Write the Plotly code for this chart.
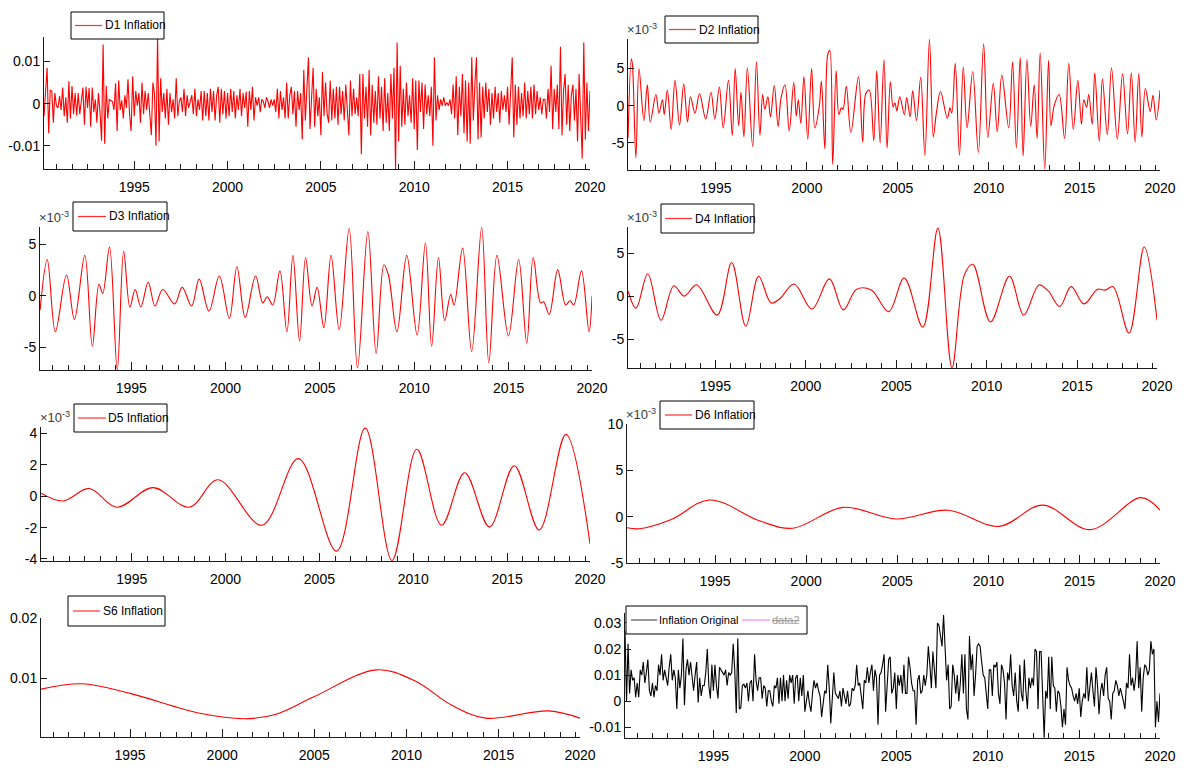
import numpy as np
import plotly.graph_objects as go
from plotly.subplots import make_subplots

# the page puts the plot 8 px in from the corner (body margin), so
# everything below is laid out in screen pixels and shifted by OFF
OFF = 8
W, H = 1184 - OFF, 772 - OFF
FONT = "Liberation Sans, Arial, sans-serif"


def px_x(s):
    return (s - OFF) / W


def px_y(s):
    return 1 - (s - OFF) / H


# sample: monthly, March 1990 .. June 2019
start = 1990 + 2 / 12
end = 2019 + 5 / 12

# ---- D1 (detail level 1, x1e-3), one row per calendar year ----
d1_rows = [
    [-3.0, 2.0, 8.5, -7.0, 3.2, 3.0, -4.5, 2.5, -0.5, -1.0],
    [1.8, -1.5, 3.8, -3.0, 1.5, -4.5, 5.3, -3.5, 4.2, -2.5, 2.5, -2.8],
    [2.5, -2.5, 0.5, 3.8, -5.0, 4.0, -1.0, 3.7, -5.5, 3.8, -2.0, 1.0],
    [-4.5, 2.5, -2.0, -8.8, 14.0, -9.5, 4.2, -3.5, 1.0, 0.8, 0.5, -1.5],
    [4.8, -6.5, 5.5, -1.5, 0.8, -3.5, 2.0, -1.0, 5.8, -2.5, -6.5, 6.5],
    [-3.0, 3.0, -0.5, 2.5, -4.5, 5.0, -2.5, 3.0, -1.5, 2.5, -3.5, -7.5],
    [5.0, 2.5, -10.0, 15.7, -9.0, 6.0, -2.0, 2.5, -3.5, 3.5, -5.0, 2.5],
    [-2.0, 1.0, -3.5, 6.0, -3.0, 0.5, 1.5, -2.0, 3.5, -3.0, 2.0, -1.0],
    [0.5, 2.0, -2.5, 3.5, -3.0, 1.0, -1.5, 3.0, -4.0, 3.0, -3.0, 2.5],
    [-4.0, 3.5, -2.0, 3.0, -4.0, 2.0, 4.0, -4.5, 3.5, -2.5, 3.0, -3.5],
    [2.5, -3.0, 3.5, -2.0, 3.0, -3.5, 2.0, -1.5, 3.5, -3.0, 2.5, -1.0],
    [2.8, -5.5, 3.0, -1.5, 4.0, -4.0, 1.5, -0.5, 1.5, -2.0, 1.0, 0.5],
    [-1.0, 1.5, 0.5, -1.0, 1.0, -0.5, 1.0, -2.0, 3.5, -3.5, 3.0, -1.5],
    [1.5, -3.5, 5.0, -3.5, 2.0, 4.0, -2.5, 3.0, -5.5, 3.0, -1.5, 2.5],
    [-8.5, 8.0, -4.0, 2.5, 11.0, -6.0, 1.0, 8.5, -5.5, 3.5, -3.0, 1.5],
    [-7.5, 7.5, -3.0, 5.0, -2.5, -4.5, 5.5, -4.0, 3.5, -3.5, 4.0, -5.0],
    [4.0, -2.5, 3.0, -4.0, 4.5, -1.5, -7.5, 5.5, -3.0, 3.5, -2.5, 1.5],
    [-3.0, 7.0, -12.0, 7.0, -3.5, 4.0, -5.5, 8.0, -7.5, 4.5, -4.5, 3.0],
    [-5.0, 6.5, -3.5, 4.0, -6.5, 6.0, -4.5, 2.5, -6.5, 7.0, -3.5, 8.5],
    [-15.5, 14.5, -9.0, 9.0, -5.5, 3.5, -5.0, 5.0, -3.0, 2.0, -4.5, 6.0],
    [-6.0, 5.5, -11.0, 5.5, -2.0, 5.0, -6.0, 4.5, -2.5, 2.0, -3.0, 4.0],
    [-10.0, 11.0, -4.0, 2.0, -1.5, 1.0, -0.5, 1.5, -0.5, 0.3, -0.5, 1.0],
    [-2.5, 4.5, -3.5, 6.5, -7.5, 4.0, -3.0, 7.0, -7.0, 5.5, -9.0, 5.0],
    [-9.5, 11.0, -4.0, 4.5, 11.0, -8.5, 5.0, -8.0, 4.0, -3.5, 5.0, -2.0],
    [3.5, -5.0, 2.5, -3.5, 4.0, -2.0, 2.5, -4.5, 3.0, -1.5, 2.0, -2.0],
    [4.0, -5.0, 2.0, 11.0, -8.0, 4.5, -5.0, 4.0, -3.5, 2.5, -3.0, 5.0],
    [-3.5, 3.0, -2.5, 4.0, -3.5, 4.5, -2.5, 3.0, -1.5, 1.5, -2.5, 1.0],
    [1.0, -3.5, 3.5, -2.0, 9.0, -6.0, 3.5, -2.0, 4.5, -6.0, 13.5, -7.5],
    [3.0, 7.0, -5.0, 4.5, -6.5, 2.0, 4.5, -4.0, 3.5, -9.0, 7.0, -3.0],
    [-13.0, 14.5, -8.5, 5.0, -6.5, 3.0],
]

# ---- original inflation (x1e-3), one row per calendar year ----
orig_rows = [
    [27, 0, 22, 3, 12, 8, 9, 1.5, 7, 1.5],
    [12, 10, 15, 7, 11, 16, 4, 2, 7, 1.5, 6, 4],
    [14, 10, 18, 8, 12, 9, 6, 13, 18, 8, 12, 9],
    [-3, 12, 5, 10, 24, -1.5, 12, 16, 10, 15, 10, 4],
    [10, 15, -0.5, 9, 2, 6, 6, 11, 20, 6, 1, 14],
    [4, 14, 6, 1, 13, 12, 11, 10, 12, 6, 11, 10],
    [11, 22, 12, -4.5, 24, -3, -2.5, 6, 6.5, 5, 7, 0],
    [7, 8, 0, 18, 8, 4, 9, 9, 1, 6, 5, -2],
    [4, 4, 0, -2, 6, 5, 9, -1, 9, 0, 10, 0],
    [8, 1, 10, 7, 10, -1, 9, 10, 0, 9, 2, 10],
    [-4, 1, 4, -1, -4, 3, 8, 5, 7, 4, 2, -6],
    [0, 4, 3, 14, 5, -8.5, 1, 11, 3, 2, 1, 4],
    [-2, 5, 2, -1, 4, -2, -1, 5, 4, 6, 14, 6],
    [7, 3, -3, 8, 7, 13, 7, 11, 14, 4, 12, 9],
    [-9, 10, 11, 14, 18, -4, 5, 16, 17, 3, 5, 11],
    [-3, 10, 6, 10, 3, 14, 3, 3, 17, 13, 7, 4],
    [4, -9, 8, 10, 3, 4, 10, 6, 10, 21, 14, 5],
    [19, 12, 5, 30, 29, 25, 21, 33, 20, 8, 14, -3],
    [-2, 14, 10, 3, 10, 0, 7, 18, 3, 18, -3, -7],
    [25, 12, 18, 2, 10, 21, 22, 21, 15, 10, 9, 2],
    [-3, 12, 12, 2, 14, 13, 15, 3, -1, 14, 12, 7],
    [-7, 11, 8, 18, 6, 2, 11, 0, -4, 14, 3, 0],
    [16, 4, -3, 9, 5, 9, 6, 20, 19, -3, 19, 19],
    [2, -14, 4, 1, 17, -3, 17, 6, 5, -4, 4, 3],
    [-2, -10, -3, -9, 13, 8, 6, 5, 2, 0, 3, -1],
    [5, -6, 0, 3, 1, 13, 0, 5, 11, 4, -2, 13],
    [6, -5, 4, 7, 2, 10, 13, 1, 0, -7, 3, 4],
    [8, 6, 2, 5, 3, 0, -3, 7, 5, 18, 6, 9],
    [4, 9, 23, 5, 13, -4, 9, 14, 13, 10, 12, 23],
    [18, 20, -10, 0, -8, 3],
]

# ---- smoother components: turning points (decimal year, value x1e-3) ----
d2_t = [1990.17, 1990.35, 1990.41, 1990.60, 1990.77, 1991.04, 1991.23, 1991.39, 1991.70, 1991.87,
        1992.06, 1992.16, 1992.33, 1992.54, 1992.75, 1993.00, 1993.23, 1993.44, 1993.60, 1993.85,
        1994.10, 1994.44, 1994.73, 1994.94, 1995.19, 1995.40, 1995.69, 1995.90, 1996.06, 1996.25,
        1996.38, 1996.54, 1996.73, 1997.02, 1997.23, 1997.42, 1997.57, 1997.69, 1997.86, 1998.00,
        1998.21, 1998.42, 1998.58, 1998.80, 1999.03, 1999.28, 1999.42, 1999.53, 1999.67, 1999.84,
        2000.05, 2000.26, 2000.44, 2000.69, 2000.80, 2000.99, 2001.15, 2001.26, 2001.42, 2001.61,
        2001.76, 2001.90, 2001.99, 2002.17, 2002.42, 2002.84, 2003.07, 2003.24, 2003.43, 2003.68,
        2003.84, 2004.03, 2004.24, 2004.41, 2004.59, 2004.74, 2004.84, 2004.95, 2005.11, 2005.36,
        2005.49, 2005.68, 2005.82, 2006.03, 2006.26, 2006.49, 2006.74, 2006.95, 2007.12, 2007.35,
        2007.72, 2007.87, 2007.97, 2008.16, 2008.39, 2008.60, 2008.81, 2009.12, 2009.43, 2009.72,
        2009.95, 2010.25, 2010.47, 2010.72, 2011.10, 2011.31, 2011.52, 2011.73, 2011.89, 2012.10,
        2012.31, 2012.50, 2012.66, 2012.83, 2013.08, 2013.29, 2013.42, 2013.60, 2013.87, 2014.17,
        2014.40, 2014.65, 2014.90, 2015.10, 2015.23, 2015.38, 2015.50, 2015.69, 2015.83, 2016.08,
        2016.25, 2016.52, 2016.75, 2017.07, 2017.36, 2017.63, 2017.84, 2018.05, 2018.25, 2018.42,
        2018.61, 2018.88, 2019.03, 2019.21, 2019.42]
d2_v = [-4.3, 6.3, 5.5, -7.0, 5.0, -2.0, 2.8, -2.2, 1.5, -1.0,
        0.8, -1.2, 2.1, -3.2, 3.4, -2.6, 2.9, -2.2, 1.2, -1.0,
        1.6, -1.8, 1.8, -1.8, 2.5, -3.0, 3.4, -4.0, 5.0, -2.7,
        1.8, -4.2, 5.1, -5.5, 5.9, -4.0, 1.5, -0.5, 1.2, -1.5,
        2.7, -2.8, 1.0, 2.8, -3.4, 3.1, -1.4, 0.8, -2.4, 3.9,
        -4.5, 5.0, -3.0, 0.0, 3.3, -5.8, 6.9, 7.4, -7.9, 4.7,
        -1.2, -0.3, -0.5, 2.6, -3.6, 3.9, -4.9, 1.6, 2.1, -4.7,
        4.7, -5.0, 6.2, -5.7, 3.2, -0.2, 0.4, -0.7, 1.2, -1.2,
        1.1, -1.5, 2.0, -2.0, 3.8, -6.7, 8.9, -4.2, -1.0, 1.9,
        -1.7, -0.3, -1.0, 5.7, -6.7, 5.2, -3.0, 4.6, -6.3, 8.3,
        -4.3, 3.0, -3.5, 4.1, -3.0, 5.9, -5.7, 6.5, -6.8, 6.2,
        -2.8, 2.8, -4.4, 7.1, -8.5, 6.1, -2.7, 0.0, 1.5, -4.4,
        5.7, -3.2, 3.4, -2.5, 0.8, -0.2, 1.5, -2.5, 4.4, -4.8,
        3.6, -3.9, 5.1, -4.5, 4.3, -3.8, 4.4, -4.9, 4.3, -4.2,
        2.3, -0.8, 1.4, -1.9, 2.1]

d3_t = [1990.17, 1990.55, 1990.98, 1991.57, 1991.99, 1992.54, 1992.94, 1993.29, 1993.49, 1993.85,
        1994.26, 1994.60, 1994.93, 1995.21, 1995.51, 1995.90, 1996.26, 1996.67, 1997.30, 1997.70,
        1998.20, 1998.60, 1999.12, 1999.67, 2000.20, 2000.60, 2001.04, 2001.59, 2001.97, 2002.21,
        2002.50, 2002.88, 2003.25, 2003.57, 2003.92, 2004.24, 2004.58, 2004.85, 2005.21, 2005.59,
        2006.02, 2006.55, 2006.99, 2007.54, 2007.98, 2008.39, 2008.63, 2009.08, 2009.60, 2010.15,
        2010.59, 2010.92, 2011.28, 2011.61, 2011.93, 2012.11, 2012.56, 2013.04, 2013.57, 2013.95,
        2014.38, 2014.99, 2015.53, 2015.96, 2016.30, 2016.69, 2016.85, 2017.15, 2017.60, 2018.02,
        2018.25, 2018.45, 2018.86, 2019.26, 2019.42]
d3_v = [-1.4, 3.5, -3.5, 2.0, -2.3, 3.9, -4.9, 1.1, 0.2, 4.7,
        -7.2, 4.3, -1.1, 0.6, -1.1, 1.3, -1.0, 0.6, -0.8, 0.8,
        -1.0, 1.6, -1.5, 1.9, -2.2, 2.8, -2.1, 1.9, -0.7, -0.1,
        -0.9, 2.4, -3.5, 3.9, -4.4, 3.7, -1.0, 0.8, -3.1, 3.9,
        -3.3, 6.5, -7.0, 6.2, -5.6, 3.0, 2.0, -3.5, 3.9, -3.8,
        5.1, -4.9, 3.7, -2.4, 0.1, -0.9, 4.6, -5.4, 6.6, -6.5,
        3.9, -3.9, 3.5, -4.6, 3.7, -0.7, -0.6, -1.8, 2.5, -0.9,
        -0.5, -0.9, 2.4, -3.5, 0.0]

d4_t = [1990.17, 1990.61, 1991.26, 1991.99, 1992.70, 1993.27, 1993.96, 1995.10, 1995.90, 1996.68,
        1997.39, 1998.08, 1998.56, 1999.35, 2000.34, 2001.30, 2002.07, 2002.81, 2003.62, 2004.58,
        2005.44, 2006.47, 2007.30, 2008.08, 2008.77, 2009.23, 2010.21, 2011.26, 2012.05, 2012.89,
        2013.40, 2014.04, 2014.67, 2015.38, 2016.13, 2016.55, 2016.99, 2017.87, 2018.71, 2019.42]
d4_v = [0.6, -1.4, 2.6, -2.8, 1.2, 0.0, 1.3, -2.2, 3.9, -3.5,
        2.3, -0.8, -0.3, 1.4, -1.5, 2.0, -1.6, 0.8, 0.7, -1.8,
        2.1, -3.6, 7.9, -8.3, 2.5, 3.7, -3.0, 2.3, -2.2, 1.3,
        0.6, -1.2, 1.1, -0.9, 0.8, 0.7, 1.1, -4.3, 5.7, -2.8]

d5_t = [1990.17, 1991.35, 1992.74, 1994.20, 1996.14, 1998.07, 1999.60, 2001.94, 2003.88, 2005.91,
        2007.44, 2008.87, 2010.19, 2011.51, 2012.74, 2014.06, 2015.38, 2016.71, 2018.13, 2019.42]
d5_v = [0.2, -0.3, 0.5, -0.7, 0.55, -0.7, 1.05, -1.85, 2.4, -3.5,
        4.35, -4.1, 3.0, -1.85, 1.5, -1.95, 1.95, -2.15, 3.95, -3.05]

d6_t = [1990.17, 1990.86, 1992.60, 1994.70, 1997.50, 1999.27, 2002.03, 2004.94, 2007.78, 2010.59,
        2012.98, 2015.58, 2018.38, 2019.42]
d6_v = [-1.2, -1.3, -0.3, 1.8, -0.5, -1.25, 1.0, -0.25, 0.7, -1.05,
        1.25, -1.4, 2.05, 0.7]

s6_t = [1990.17, 1992.40, 1995.00, 1998.80, 2001.21, 2002.87, 2004.95, 2008.38, 2010.45, 2012.42,
        2014.29, 2017.72, 2019.42]
s6_v = [8.2, 9.1, 7.5, 4.2, 3.3, 4.0, 6.9, 11.4, 9.6, 5.6,
        3.4, 4.6, 3.4]

year_ticks = [1995, 2000, 2005, 2010, 2015, end]
year_labels = ["1995", "2000", "2005", "2010", "2015", "2020"]

d1 = np.array([v for row in d1_rows for v in row]) * 1e-3
orig = np.array([v for row in orig_rows for v in row]) * 1e-3
months_d1 = start + np.arange(len(d1)) / 12
months_orig = start + np.arange(len(orig)) / 12

# minor ticks every 10 months, anchored on 1995
minor_ticks = [1995 + k * 10 / 12 for k in range(-5, 30) if k % 6 != 0]

fig = make_subplots(rows=4, cols=2)

# (row, col, x px, y px, y range, y ticks, y labels, sci label)
panels = [
    (1, 1, (44, 590), (37, 169), (-0.0155, 0.0158), [-0.01, 0, 0.01], ["-0.01", "0", "0.01"], False),
    (1, 2, (628, 1160), (39, 170), (-8.65, 8.96), [-5, 0, 5], ["-5", "0", "5"], True),
    (2, 1, (40, 592), (227, 370), (-7.2, 6.65), [-5, 0, 5], ["-5", "0", "5"], True),
    (2, 2, (628, 1157), (227, 368), (-8.35, 8.03), [-5, 0, 5], ["-5", "0", "5"], True),
    (3, 1, (41, 590), (427, 561), (-4.13, 4.42), [-4, -2, 0, 2, 4], ["-4", "-2", "0", "2", "4"], True),
    (3, 2, (627, 1160), (424, 563), (-5, 10), [-5, 0, 5, 10], ["-5", "0", "5", "10"], True),
    (4, 1, (41, 580), (618, 737), (0.00027, 0.02), [0.01, 0.02], ["0.01", "0.02"], False),
    (4, 2, (625, 1160), (613, 738), (-0.0141, 0.0338), [-0.01, 0, 0.01, 0.02, 0.03],
     ["-0.01", "0", "0.01", "0.02", "0.03"], False),
]

series = [
    (months_d1, d1, "D1 Inflation", "linear", "red"),
    (d2_t, d2_v, "D2 Inflation", "spline", "red"),
    (d3_t, d3_v, "D3 Inflation", "spline", "red"),
    (d4_t, d4_v, "D4 Inflation", "spline", "red"),
    (d5_t, d5_v, "D5 Inflation", "spline", "red"),
    (d6_t, d6_v, "D6 Inflation", "spline", "red"),
    (s6_t, np.array(s6_v) * 1e-3, "S6 Inflation", "spline", "red"),
    (months_orig, orig, "Inflation Original", "linear", "black"),
]

# MATLAB-style legend boxes: box (x0, y0, x1, y1) in px,
# entries (line x0, line x1, text x, label, colour, font size)
legends = [
    ((71, 12, 164, 39), [(75, 102, 104, "D1 Inflation", "#ff3030", 12)]),
    ((665, 16, 758, 43), [(669, 696, 698, "D2 Inflation", "#ff3030", 12)]),
    ((73, 202, 167, 231), [(78, 106, 108, "D3 Inflation", "#ff3030", 12)]),
    ((661, 204, 754, 233), [(665, 692, 694, "D4 Inflation", "#ff3030", 12)]),
    ((74, 404, 167, 432), [(78, 106, 107, "D5 Inflation", "#ff3030", 12)]),
    ((660, 401, 754, 429), [(665, 692, 694, "D6 Inflation", "#ff3030", 12)]),
    ((68, 596, 165, 626), [(73, 100, 102, "S6 Inflation", "#ff3030", 12)]),
    ((626, 606, 807, 634), [(631, 657, 658, "Inflation Original", "#555555", 11),
                            (742, 770, 771, '<span style="color:#9a9a9a"><s>data2</s></span>',
                             "#f08ce6", 11)]),
]

axis_col = "#1a1a1a"
shapes = []
annotations = []

for p, s in zip(panels, series):
    row, col, xpx, ypx, yr, yt, ytt, sci = p
    x, y, name, shape, color = s
    fig.add_trace(go.Scatter(x=x, y=y, mode="lines", name=name, showlegend=False,
                             line=dict(color=color, width=1.1, shape=shape)),
                  row=row, col=col)

    fig.update_xaxes(domain=[px_x(xpx[0]), px_x(xpx[1])], range=[start, end],
                     tickmode="array", tickvals=year_ticks, ticktext=year_labels,
                     ticks="inside", ticklen=8, tickcolor=axis_col,
                     minor=dict(tickmode="array", tickvals=minor_ticks, ticks="inside",
                                ticklen=5, tickcolor=axis_col, showgrid=False),
                     showline=True, linecolor=axis_col, linewidth=1,
                     showgrid=False, zeroline=False, ticklabelstandoff=5,
                     tickfont=dict(family=FONT, size=14, color="black"),
                     row=row, col=col)
    fig.update_yaxes(domain=[px_y(ypx[1]), px_y(ypx[0])], range=list(yr),
                     tickmode="array", tickvals=yt, ticktext=ytt,
                     ticks="inside", ticklen=6, tickcolor=axis_col,
                     showline=True, linecolor=axis_col, linewidth=1,
                     showgrid=False, zeroline=False,
                     tickfont=dict(family=FONT, size=14, color="black"),
                     row=row, col=col)

    if sci:
        annotations.append(dict(
            x=px_x(xpx[0] - 2), y=px_y(ypx[0] - 1), xref="paper", yref="paper",
            xanchor="left", yanchor="bottom", showarrow=False, borderpad=0,
            text="\u00d710<sup>-3</sup>",
            font=dict(family=FONT, size=13, color="#3a3a3a")))

for box, entries in legends:
    x0, y0, x1, y1 = box
    shapes.append(dict(type="rect", xref="paper", yref="paper", layer="above",
                       x0=px_x(x0), x1=px_x(x1), y0=px_y(y0), y1=px_y(y1),
                       fillcolor="white", line=dict(color="black", width=1)))
    ymid = px_y((y0 + y1) / 2)
    for lx0, lx1, tx, label, lcol, fsize in entries:
        shapes.append(dict(type="line", xref="paper", yref="paper", layer="above",
                           x0=px_x(lx0), x1=px_x(lx1), y0=ymid, y1=ymid,
                           line=dict(color=lcol, width=1.2)))
        annotations.append(dict(x=px_x(tx), y=ymid, xref="paper", yref="paper",
                                xanchor="left", yanchor="middle", showarrow=False,
                                borderpad=0, text=label,
                                font=dict(family=FONT, size=fsize, color="black")))

fig.update_layout(
    width=W, height=H,
    margin=dict(l=0, r=0, t=0, b=0, autoexpand=False),
    paper_bgcolor="white", plot_bgcolor="white",
    showlegend=False,
    shapes=shapes,
    annotations=annotations,
)

fig.write_html("out.html")
